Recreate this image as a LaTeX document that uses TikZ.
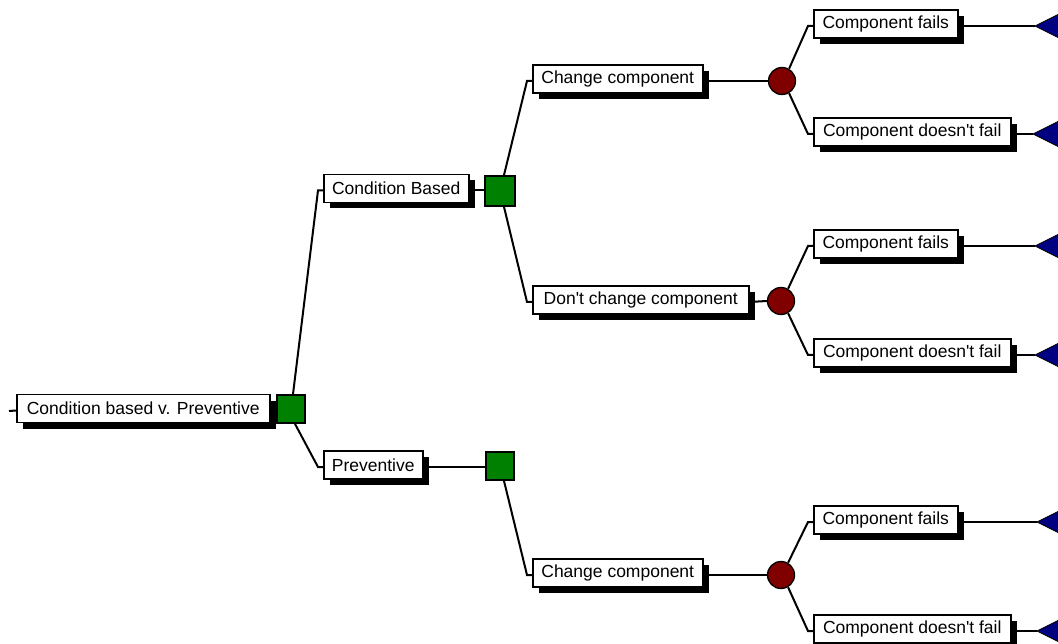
\documentclass[tikz,border=0pt]{standalone}
\usepackage{fontspec}
\setmainfont{Liberation Sans}
\usetikzlibrary{shadows,calc}
\definecolor{dgreen}{HTML}{008000}
\definecolor{dred}{HTML}{800000}
\definecolor{dblue}{HTML}{000080}
\begin{document}
\begin{tikzpicture}[x=1pt,y=-1pt,
  lbl/.style={draw=black, line width=1.5pt, fill=white, anchor=west, minimum height=28pt,
    inner sep=0pt, font=\fontsize{17.5}{20}\selectfont,
    general shadow={fill=black, shadow xshift=6pt, shadow yshift=-6pt}},
  dec/.style={draw=black, line width=1.8pt, fill=dgreen, minimum size=28pt, inner sep=0pt},
  chance/.style={circle, draw=black, line width=1.3pt, fill=dred, minimum size=27pt, inner sep=0pt},
  term/.style={fill=dblue, draw=black, line width=0.8pt},
  conn/.style={line width=2pt, black}]
\useasboundingbox (0,0) rectangle (1058,644);

% label boxes
\node[lbl, minimum width=253pt] (root) at (16,408.5) {Condition based v. Preventive};
\node[lbl, minimum width=145pt] (cb) at (323,188.5) {Condition Based};
\node[lbl, minimum width=99pt] (prev) at (323,465) {Preventive};
\node[lbl, minimum width=170pt] (cc1) at (532,79) {Change component};
\node[lbl, minimum width=216pt] (dcc) at (532,300) {Don\textquotesingle t change component};
\node[lbl, minimum width=170pt] (cc2) at (532,573) {Change component};
\node[lbl, minimum width=144pt] (cf1) at (813,24) {Component fails};
\node[lbl, minimum width=197pt] (cdf1) at (813,132) {Component doesn\textquotesingle t fail};
\node[lbl, minimum width=144pt] (cf2) at (813,244) {Component fails};
\node[lbl, minimum width=197pt] (cdf2) at (813,353) {Component doesn\textquotesingle t fail};
\node[lbl, minimum width=144pt] (cf3) at (813,520) {Component fails};
\node[lbl, minimum width=197pt] (cdf3) at (813,629) {Component doesn\textquotesingle t fail};

% decision nodes
\node[dec] (sq0) at (291,409) {};
\node[dec, minimum size=30pt] (sq1) at (500,191) {};
\node[dec] (sq2) at (500,466) {};

% chance nodes
\node[chance] (ch1) at (782,81) {};
\node[chance] (ch2) at (781,301) {};
\node[chance] (ch3) at (781,575) {};

% terminal tips
\coordinate (t1) at (1035,26);
\coordinate (t2) at (1033,134);
\coordinate (t3) at (1035,246);
\coordinate (t4) at (1035,355);
\coordinate (t5) at (1037,522);
\coordinate (t6) at (1037,631);
\foreach \t in {t1,t2,t3,t4,t5,t6}{
  \filldraw[term] (\t) -- ++(28,-14) -- ++(0,28) -- cycle;
}

\coordinate (lead) at (9,411);

% connectors
\draw[conn] (lead) -- ($(root.west)+(0,2)$);
\draw[conn] ($(root.east)+(0,2)$) -- ($(root.east -| sq0.west)+(0,2)$);
\draw[conn] ($(sq0.north)+(2,0)$) -- ($(cb.west)+(-5,2)$) -- ($(cb.west)+(0,2)$);
\draw[conn] ($(sq0.south)+(4,0)$) -- ($(prev.west)+(-5,2)$) -- ($(prev.west)+(0,2)$);
\draw[conn] ($(cb.east)+(0,2)$) -- ($(cb.east -| sq1.west)+(0,2)$);
\draw[conn] ($(prev.east)+(0,2)$) -- ($(prev.east -| sq2.west)+(0,2)$);
\draw[conn] ($(sq1.north)+(4,0)$) -- ($(cc1.west)+(-5,2)$) -- ($(cc1.west)+(0,2)$);
\draw[conn] ($(sq1.south)+(4,0)$) -- ($(dcc.west)+(-5,2)$) -- ($(dcc.west)+(0,2)$);
\draw[conn] ($(sq2.south)+(4,0)$) -- ($(cc2.west)+(-5,2)$) -- ($(cc2.west)+(0,2)$);
\draw[conn] ($(cc1.east)+(0,2)$) -- (ch1.west);
\draw[conn] ($(dcc.east)+(0,2)$) -- (ch2.west);
\draw[conn] ($(cc2.east)+(0,2)$) -- (ch3.west);
\draw[conn] (ch1.60) -- ($(cf1.west)+(-5,2)$) -- ($(cf1.west)+(0,2)$);
\draw[conn] (ch1.-60) -- ($(cdf1.west)+(-5,2)$) -- ($(cdf1.west)+(0,2)$);
\draw[conn] (ch2.60) -- ($(cf2.west)+(-5,2)$) -- ($(cf2.west)+(0,2)$);
\draw[conn] (ch2.-60) -- ($(cdf2.west)+(-5,2)$) -- ($(cdf2.west)+(0,2)$);
\draw[conn] (ch3.60) -- ($(cf3.west)+(-5,2)$) -- ($(cf3.west)+(0,2)$);
\draw[conn] (ch3.-60) -- ($(cdf3.west)+(-5,2)$) -- ($(cdf3.west)+(0,2)$);
\draw[conn] ($(cf1.east)+(0,2)$) -- (t1);
\draw[conn] ($(cdf1.east)+(0,2)$) -- (t2);
\draw[conn] ($(cf2.east)+(0,2)$) -- (t3);
\draw[conn] ($(cdf2.east)+(0,2)$) -- (t4);
\draw[conn] ($(cf3.east)+(0,2)$) -- (t5);
\draw[conn] ($(cdf3.east)+(0,2)$) -- (t6);
\end{tikzpicture}
\end{document}
